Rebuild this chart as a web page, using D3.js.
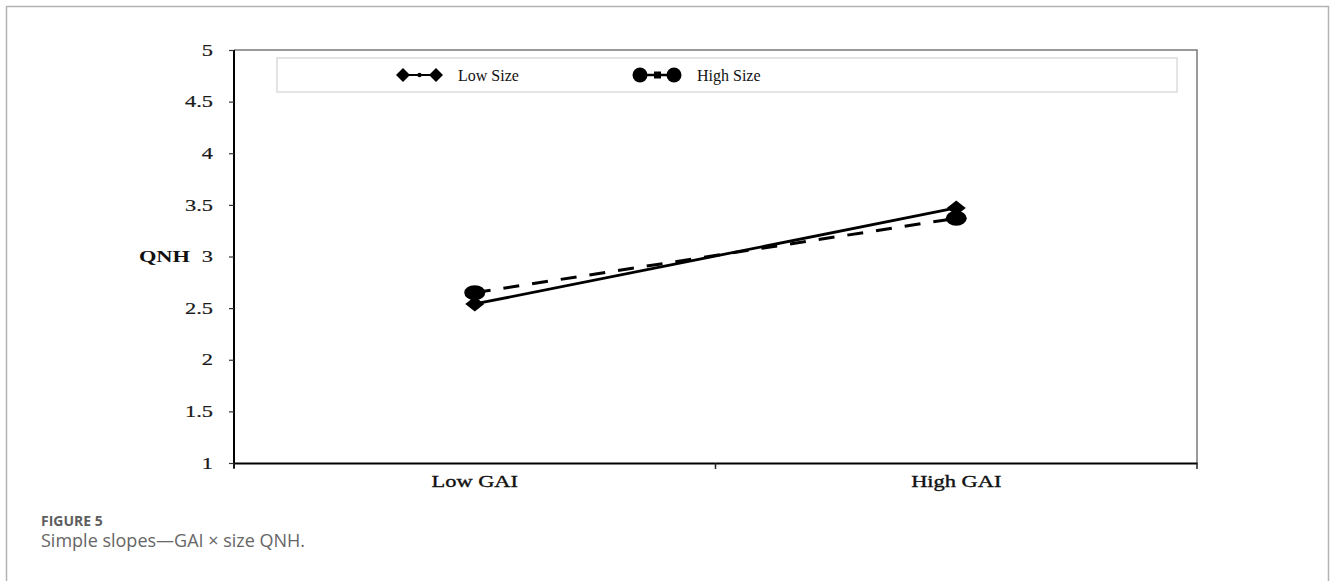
<!DOCTYPE html>
<html>
<head>
<meta charset="utf-8">
<script src="https://cdn.jsdelivr.net/npm/d3@7"></script>
<style>
  html, body { margin: 0; padding: 0; background: #fff; }
  svg { display: block; }
</style>
</head>
<body>
<svg id="chart" width="1330" height="581"></svg>
<script>
// ── Data ──────────────────────────────────────────────────────────────
const categories  = ['Low GAI', 'High GAI'];
const lowSize     = [2.54, 3.47];
const highSize    = [2.65, 3.37];
const yTicks      = [1, 1.5, 2, 2.5, 3, 3.5, 4, 4.5, 5];
const seriesNames = ['Low Size', 'High Size'];
const yLabel      = 'QNH';
const figLabel    = 'FIGURE 5';
const figCaption  = 'Simple slopes\u2014GAI \u00d7 size QNH.';

// ── Layout ────────────────────────────────────────────────────────────
const plot    = { left: 234, right: 1197, top: 50, bottom: 463 };
const serif   = '"Liberation Serif", "Times New Roman", serif';
const stretch = 1.4;   // axis text in the source is squeezed wide

const svg = d3.select('#chart');

// outer frame (open at the bottom edge of the picture)
svg.append('rect')
  .attr('x', 6.5).attr('y', 6.5).attr('width', 1322).attr('height', 620)
  .attr('fill', 'none').attr('stroke', '#b3b3b3').attr('stroke-width', 1.5);

const x = d3.scaleBand().domain(categories).range([plot.left, plot.right]).padding(0);
const y = d3.scaleLinear().domain([1, 5]).range([plot.bottom, plot.top]);

function widen(sel) {
  sel.each(function () {
    const w = this.getComputedTextLength();
    d3.select(this).attr('textLength', w * stretch).attr('lengthAdjust', 'spacingAndGlyphs');
  });
}

// top and right frame of plot
svg.append('path')
  .attr('d', `M${plot.left},${plot.top}H${plot.right}V${plot.bottom}`)
  .attr('fill', 'none').attr('stroke', '#7a7a7a').attr('stroke-width', 1.5);

// Y axis
const yAxis = svg.append('g')
  .attr('transform', `translate(${plot.left},0)`)
  .call(d3.axisLeft(y).tickValues(yTicks).tickSize(5).tickPadding(16).tickSizeOuter(0)
    .tickFormat(d => String(d)));
yAxis.select('.domain').attr('stroke', '#000').attr('stroke-width', 2)
  .attr('d', `M0,${plot.top}V${plot.bottom + 5}`);
yAxis.selectAll('.tick line').attr('stroke', '#333').attr('stroke-width', 1.2);
yAxis.selectAll('.tick text')
  .attr('font-family', serif).attr('font-size', 16).attr('fill', '#1a1a1a')
  .attr('stroke', '#1a1a1a').attr('stroke-width', 0.2)
  .call(widen);

// X axis
const xAxis = svg.append('g')
  .attr('transform', `translate(0,${plot.bottom})`)
  .call(d3.axisBottom(x).tickSize(0).tickPadding(12.5).tickSizeOuter(0));
xAxis.select('.domain').attr('stroke', '#000').attr('stroke-width', 2);
xAxis.selectAll('.tick text')
  .attr('font-family', serif).attr('font-size', 16).attr('fill', '#111')
  .attr('stroke', '#111').attr('stroke-width', 0.35)
  .call(widen);
// category boundary ticks
const bounds = categories.map(c => x(c)).concat([x(categories[categories.length - 1]) + x.bandwidth()]);
xAxis.selectAll('line.bound').data(bounds).enter().append('line')
  .attr('class', 'bound')
  .attr('x1', d => d).attr('x2', d => d).attr('y1', 0).attr('y2', 6)
  .attr('stroke', '#222').attr('stroke-width', 1.5);

// Y label
svg.append('text')
  .attr('x', 190).attr('y', y(3)).attr('dy', '0.32em')
  .attr('text-anchor', 'end')
  .attr('font-family', serif).attr('font-size', 16).attr('font-weight', 'bold').attr('fill', '#111')
  .text(yLabel)
  .call(widen);

// ── Series ────────────────────────────────────────────────────────────
const cx = c => x(c) + x.bandwidth() / 2;
const line = d3.line().x((d, i) => cx(categories[i])).y(d => y(d));

svg.append('path').datum(lowSize)
  .attr('d', line).attr('fill', 'none')
  .attr('stroke', '#000').attr('stroke-width', 2.8);

svg.append('path').datum(highSize)
  .attr('d', line).attr('fill', 'none')
  .attr('stroke', '#000').attr('stroke-width', 3)
  .attr('stroke-dasharray', '16,13');

function diamond(g, px, py, hw, hh) {
  g.append('path')
    .attr('d', `M${px},${py - hh}L${px + hw},${py}L${px},${py + hh}L${px - hw},${py}Z`)
    .attr('fill', '#000');
}

lowSize.forEach((v, i) => diamond(svg, cx(categories[i]), y(v), 9.5, 7.5));
highSize.forEach((v, i) => {
  svg.append('ellipse')
    .attr('cx', cx(categories[i])).attr('cy', y(v))
    .attr('rx', 10.5).attr('ry', 7.5).attr('fill', '#000');
});

// ── Legend ────────────────────────────────────────────────────────────
const legend = svg.append('g');
legend.append('rect')
  .attr('x', 277).attr('y', 58).attr('width', 900).attr('height', 34)
  .attr('fill', '#fff').attr('stroke', '#dcdcdc').attr('stroke-width', 1.5);

const ly = 75;
// Low Size
legend.append('line').attr('x1', 403).attr('x2', 436).attr('y1', ly).attr('y2', ly)
  .attr('stroke', '#000').attr('stroke-width', 2);
diamond(legend, 403, ly, 7, 7);
diamond(legend, 436, ly, 7, 7);
legend.append('circle').attr('cx', 419.5).attr('cy', ly).attr('r', 2.2).attr('fill', '#000');
legend.append('text').attr('x', 458).attr('y', ly).attr('dy', '0.35em')
  .attr('font-family', serif).attr('font-size', 16).attr('fill', '#111')
  .text(seriesNames[0]);

// High Size
legend.append('line').attr('x1', 640).attr('x2', 674).attr('y1', ly).attr('y2', ly)
  .attr('stroke', '#000').attr('stroke-width', 2.5);
legend.append('circle').attr('cx', 640).attr('cy', ly).attr('r', 7.5).attr('fill', '#000');
legend.append('circle').attr('cx', 674).attr('cy', ly).attr('r', 7.5).attr('fill', '#000');
legend.append('rect').attr('x', 654).attr('y', ly - 3.5).attr('width', 7).attr('height', 7).attr('fill', '#000');
legend.append('text').attr('x', 697).attr('y', ly).attr('dy', '0.35em')
  .attr('font-family', serif).attr('font-size', 16).attr('fill', '#111')
  .text(seriesNames[1]);

// ── Caption ───────────────────────────────────────────────────────────
svg.append('text')
  .attr('x', 41).attr('y', 526)
  .attr('font-family', '"Open Sans", sans-serif').attr('font-size', 14).attr('font-weight', 'bold')
  .attr('fill', '#5e5e5e')
  .text(figLabel);
svg.append('text')
  .attr('x', 41).attr('y', 547)
  .attr('font-family', '"Open Sans", sans-serif').attr('font-size', 18)
  .attr('fill', '#666')
  .text(figCaption);
</script>
</body>
</html>
